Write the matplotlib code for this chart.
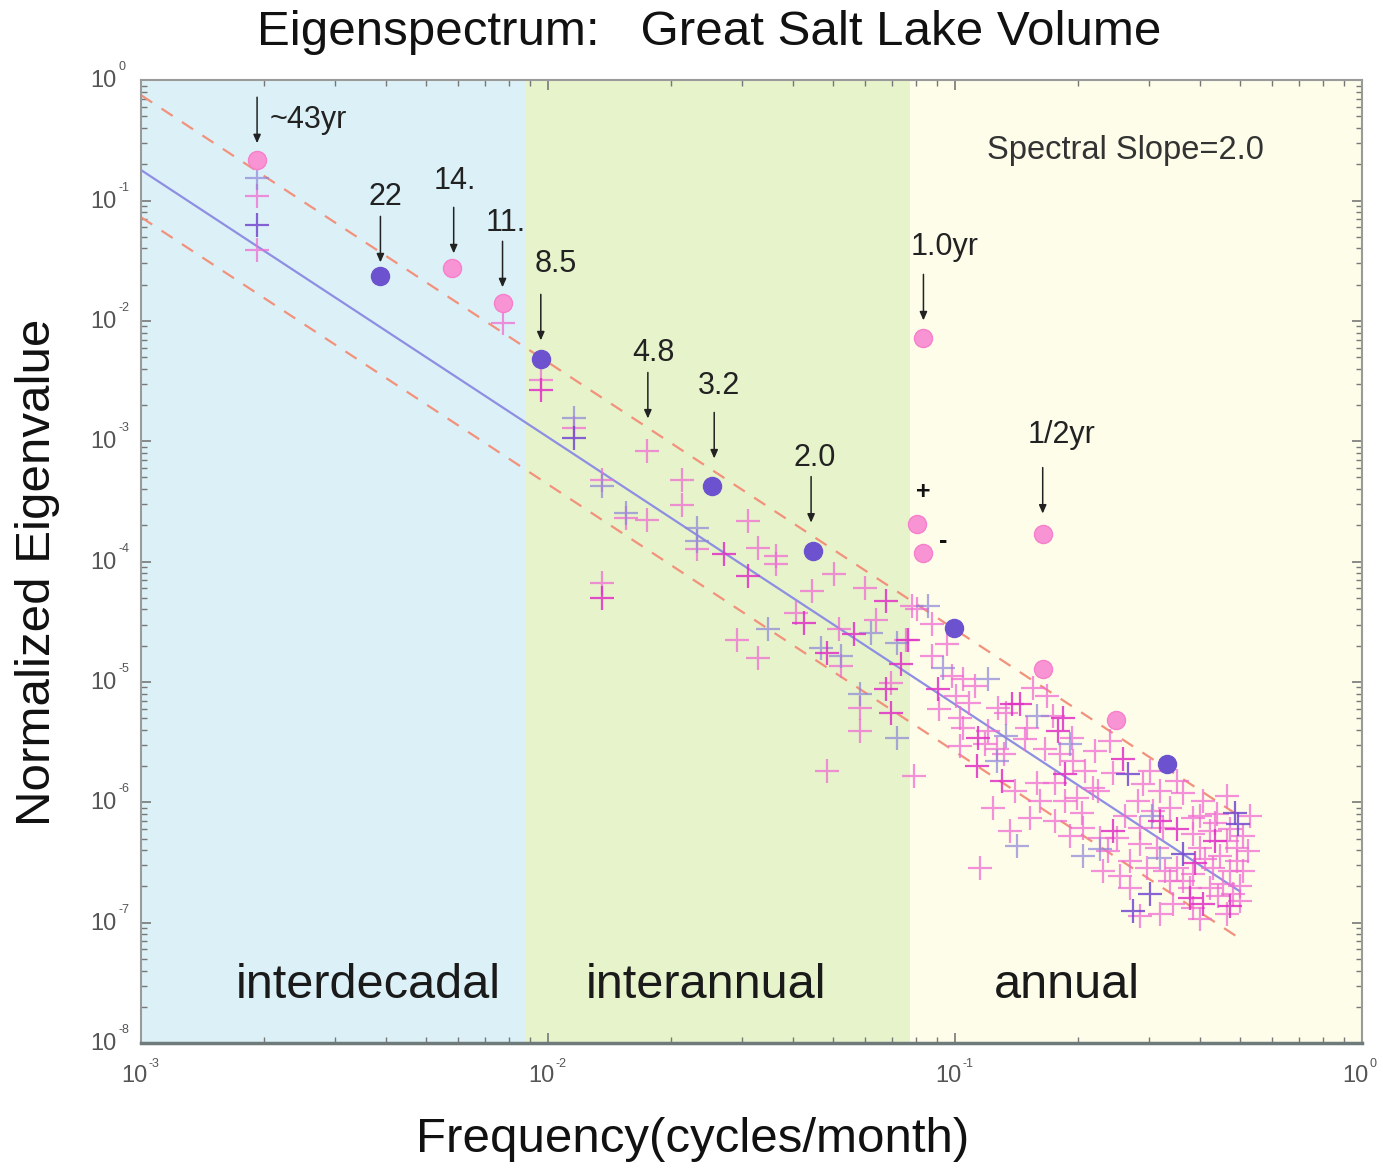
import matplotlib
matplotlib.use("Agg")
import numpy as np
import matplotlib.pyplot as plt

plt.rcParams["font.family"] = ["Liberation Sans", "DejaVu Sans"]

# frequency bands (cycles/month)
band_edges = [1e-3, 0.0088, 0.0773, 1.0]
band_names = ["interdecadal", "interannual", "annual"]
band_colors = ["#dcf1f7", "#e6f3cb", "#fdfdea"]

# power-law fit and its envelope, values at f = 1e-3
fit_slope = 2.22
env_hi_amp = 0.75
fit_amp = 0.179
env_lo_amp = 0.0726
fit_f = [1e-3, 0.5]

# highlighted eigenvalues (log10 f, log10 value)
pink_dot_logf = [-2.715, -2.237, -2.112, -1.080, -1.093, -1.080, -0.785, -0.785, -0.605]
pink_dot_logy = [-0.665, -1.563, -1.854, -2.146, -3.684, -3.925, -3.767, -4.890, -5.314]
blue_dot_logf = [-2.412, -2.018, -1.597, -1.349, -1.004, -0.480]
blue_dot_logy = [-1.630, -2.320, -3.368, -3.909, -4.549, -5.680]

# remaining eigenvalues, '+' markers
pink_logf = [-2.715, -2.715, -2.112, -2.018, -1.937, -1.757, -1.671, -1.671, -1.868, -1.809,
             -1.757, -1.634, -1.509, -1.484, -1.440, -1.440, -1.868, -1.536, -1.484, -1.297,
             -1.351, -1.221, -1.390, -1.194, -1.285, -1.120, -1.280, -1.157, -1.235, -1.235,
             -1.314, -1.100, -1.105, -1.058, -1.058, -1.095, -1.019, -1.009, -0.982, -0.952,
             -0.997, -0.965, -1.039, -0.989, -0.982, -0.920, -0.928, -0.896, -0.874, -0.810,
             -0.775, -0.760, -0.824, -0.829, -0.898, -0.879, -0.780, -0.743, -0.800, -0.756,
             -0.731, -0.908, -0.817, -0.756, -0.866, -0.714, -0.657, -0.620, -0.711, -0.613,
             -0.662, -0.701, -0.539, -0.497, -0.455, -0.441, -0.551, -0.514, -0.473, -0.391,
             -0.332, -0.357, -0.416, -0.689, -0.687, -0.603, -0.645, -0.546, -0.490, -0.416,
             -0.374, -0.332, -0.308, -0.546, -0.505, -0.399, -0.637, -0.571, -0.529, -0.455,
             -0.416, -0.367, -0.325, -0.308, -0.571, -0.473, -0.423, -0.374, -0.342, -0.465,
             -0.497, -0.416, -0.332, -0.318, -0.940, -0.399, -0.362, -0.325, -0.293, -0.386,
             -0.350, -0.293, -0.300, -0.354, -0.300, -0.441, -0.485, -0.596, -0.625, -0.583,
             -0.650, -0.522, -0.276, -0.281, -0.399, -0.546, -0.682, -0.792, -0.989, -0.854,
             -0.719]
pink_logy = [-0.965, -1.414, -2.021, -2.495, -2.894, -3.077, -3.318, -3.526, -3.318, -3.634,
             -3.651, -3.892, -3.659, -3.884, -3.950, -4.017, -4.175, -4.649, -4.798, -4.100,
             -4.241, -4.216, -4.424, -4.482, -4.557, -4.649, -4.865, -5.006, -5.214, -5.405,
             -5.738, -5.780, -4.366, -4.516, -4.782, -4.391, -4.682, -4.948, -4.973, -5.031,
             -5.114, -5.172, -5.222, -5.297, -5.380, -5.405, -5.514, -5.214, -5.256, -5.048,
             -5.114, -5.281, -5.380, -5.472, -5.555, -5.597, -5.555, -5.597, -5.838, -5.838,
             -5.988, -6.046, -6.129, -6.154, -6.237, -5.464, -5.572, -5.489, -5.655, -5.755,
             -5.879, -5.963, -5.846, -5.904, -5.821, -5.921, -5.988, -6.071, -6.046, -5.988,
             -5.946, -6.096, -6.129, -6.087, -6.212, -6.295, -6.295, -6.212, -6.212, -6.262,
             -6.237, -6.320, -6.378, -6.345, -6.378, -6.378, -6.570, -6.486, -6.545, -6.545,
             -6.595, -6.545, -6.570, -6.486, -6.711, -6.653, -6.711, -6.711, -6.678, -6.844,
             -6.927, -6.877, -6.927, -6.761, -6.545, -6.112, -6.170, -6.220, -6.279, -6.470,
             -6.445, -6.570, -6.694, -6.778, -6.819, -6.653, -6.570, -6.611, -6.403, -6.112,
             -5.904, -5.738, -6.112, -6.403, -6.969, -6.944, -5.738, -5.988, -5.530, -5.904,
             -6.279]

lav_logf = [-2.715, -1.937, -1.868, -1.809, -1.634, -1.634, -1.459, -1.206, -1.144, -1.329,
            -1.280, -1.235, -1.144, -1.068, -1.031, -0.920, -0.800, -0.874, -0.898, -0.719,
            -0.516, -0.687, -0.645, -0.497, -0.849]
lav_logy = [-0.815, -2.803, -3.368, -3.593, -3.717, -3.825, -4.557, -4.590, -4.674, -4.715,
            -4.782, -5.098, -5.464, -4.366, -4.881, -4.973, -5.281, -5.447, -5.655, -5.514,
            -6.112, -6.445, -6.387, -6.461, -6.362]

mag_logf = [-2.018, -1.568, -1.509, -1.868, -1.169, -1.371, -1.248, -1.314, -1.132, -1.169,
            -1.157, -1.117, -1.043, -0.945, -0.861, -0.842, -0.736, -0.748, -0.947, -0.886,
            -0.731, -0.588, -0.613, -0.455, -0.423, -0.391, -0.362, -0.411, -0.325, -0.497]
mag_logy = [-2.578, -3.933, -4.116, -4.299, -4.324, -4.507, -4.599, -4.757, -4.848, -5.056,
            -5.256, -4.649, -5.056, -5.464, -5.181, -5.181, -5.297, -5.405, -5.696, -5.821,
            -5.763, -5.638, -6.237, -6.220, -6.794, -6.844, -6.320, -6.503, -6.861, -6.154]

purple_logf = [-2.715, -1.937, -0.576, -0.313, -0.305, -0.441, -0.522, -0.564]
purple_logy = [-1.206, -2.969, -5.763, -6.087, -6.179, -6.428, -6.761, -6.902]

# period labels with arrows
arrow_labels = ["~43yr", "22", "14.", "11.", "8.5", "4.8", "3.2", "2.0", "1.0yr", "1/2yr"]
arrow_logf = [-2.715, -2.412, -2.232, -2.112, -2.018, -1.755, -1.592, -1.354, -1.078, -0.785]
arrow_logy = [-0.524, -1.514, -1.439, -1.721, -2.162, -2.811, -3.143, -3.676, -1.996, -3.601]
# label offsets from the arrow tip, in pixels
label_dx = [13, 5, 1, 3, 15, 6, 5, 4, 21, 19]
label_dy = [23, 65, 72, 64, 76, 65, 72, 65, 73, 79]

fig = plt.figure(figsize=(13.83, 11.70), dpi=100)
ax = fig.add_axes([0.102, 0.1085, 0.883, 0.823])
ax.set_xscale("log")
ax.set_yscale("log")
ax.set_xlim(1e-3, 1.0)
ax.set_ylim(1e-8, 1.0)

for i in range(3):
    ax.axvspan(band_edges[i], band_edges[i + 1], color=band_colors[i], zorder=0, lw=0)
band_label_x = [0.186, 0.463, 0.758]
for name, bx in zip(band_names, band_label_x):
    ax.text(bx, 0.06, name, transform=ax.transAxes, ha="center", va="center",
            fontsize=35, color="#1a1a1a")

# fit line and envelope
f = np.array(fit_f)
ax.plot(f, fit_amp * (f / 1e-3) ** (-fit_slope), color="#8e8ee2", lw=1.6, zorder=2)
ax.plot(f, env_hi_amp * (f / 1e-3) ** (-fit_slope), color="#f2917c", lw=1.6,
        ls=(0, (6, 5)), zorder=2)
ax.plot(f, env_lo_amp * (f / 1e-3) ** (-fit_slope), color="#f2917c", lw=1.6,
        ls=(0, (6, 5)), zorder=2)

# crosses
cross_kw = dict(ls="none", marker="+", ms=17, mew=1.6, zorder=3)
ax.plot(10 ** np.array(pink_logf), 10 ** np.array(pink_logy), color="#f06cd2",
        alpha=0.75, **cross_kw)
ax.plot(10 ** np.array(lav_logf), 10 ** np.array(lav_logy), color="#8d85d9",
        alpha=0.7, **cross_kw)
ax.plot(10 ** np.array(mag_logf), 10 ** np.array(mag_logy), color="#e030c4",
        alpha=0.85, **cross_kw)
ax.plot(10 ** np.array(purple_logf), 10 ** np.array(purple_logy), color="#7448d0",
        alpha=0.85, **cross_kw)

# highlighted dots
ax.plot(10 ** np.array(pink_dot_logf), 10 ** np.array(pink_dot_logy), ls="none",
        marker="o", ms=13, color="#f994d4", mec="#f77fcc", mew=1, zorder=4)
ax.plot(10 ** np.array(blue_dot_logf), 10 ** np.array(blue_dot_logy), ls="none",
        marker="o", ms=13, color="#6c52cf", mec="#6c52cf", mew=1, zorder=4)

# arrows and period labels
for lab, lf, ly, dx, dy in zip(arrow_labels, arrow_logf, arrow_logy, label_dx, label_dy):
    tip = (10 ** lf, 10 ** ly)
    ax.annotate("", xy=tip, xytext=(0, 46), textcoords="offset pixels",
                arrowprops=dict(arrowstyle="-|>,head_length=0.5,head_width=0.22",
                                color="#222222", lw=1.1, shrinkA=0, shrinkB=0),
                zorder=5)
    ax.annotate(lab, xy=tip, xytext=(dx, dy), textcoords="offset pixels",
                ha="left" if lab == "~43yr" else "center", va="center",
                fontsize=22, color="#222222", zorder=5)

ax.annotate("+", xy=(10 ** pink_dot_logf[4], 10 ** pink_dot_logy[4]), xytext=(6, 32),
            textcoords="offset pixels", ha="center", va="center", fontsize=18,
            fontweight="bold", color="#111111")
ax.annotate("-", xy=(10 ** pink_dot_logf[5], 10 ** pink_dot_logy[5]), xytext=(21, 12),
            textcoords="offset pixels", ha="center", va="center", fontsize=18,
            fontweight="bold", color="#111111")

ax.text(0.806, 0.927, "Spectral Slope=2.0", transform=ax.transAxes, ha="center",
        va="center", fontsize=23.5, color="#333333")

# ticks: inside on all sides, labels drawn by hand as 10 + small exponent
ax.tick_params(which="both", direction="in", top=True, right=True,
               labelbottom=False, labelleft=False, color="#777777")
ax.tick_params(which="major", length=7, width=1.2)
ax.tick_params(which="minor", length=4, width=1.0)
ax.xaxis.set_minor_locator(matplotlib.ticker.LogLocator(base=10, subs=np.arange(2, 10)))
ax.yaxis.set_minor_locator(matplotlib.ticker.LogLocator(base=10, subs=np.arange(2, 10),
                                                        numticks=20))
ax.yaxis.set_major_locator(matplotlib.ticker.LogLocator(base=10, numticks=20))

for e in range(-3, 1):
    ax.annotate("10", xy=(10.0 ** e, 0), xycoords=("data", "axes fraction"),
                xytext=(-7, -33), textcoords="offset pixels", ha="center", va="center",
                fontsize=17, color="#555555")
    ax.annotate(str(e), xy=(10.0 ** e, 0), xycoords=("data", "axes fraction"),
                xytext=(7, -21), textcoords="offset pixels", ha="left", va="center",
                fontsize=9, color="#555555")
for e in range(-8, 1):
    ax.annotate("10", xy=(0, 10.0 ** e), xycoords=("axes fraction", "data"),
                xytext=(-25, -1), textcoords="offset pixels", ha="right", va="center",
                fontsize=17, color="#555555")
    ax.annotate(str(e), xy=(0, 10.0 ** e), xycoords=("axes fraction", "data"),
                xytext=(-23, 13), textcoords="offset pixels", ha="left", va="center",
                fontsize=9, color="#555555")

for side in ["left", "right", "top"]:
    ax.spines[side].set_color("#9a9a9a")
    ax.spines[side].set_linewidth(1.5)
ax.spines["bottom"].set_color("#6f7a7a")
ax.spines["bottom"].set_linewidth(2.5)

fig.text(0.513, 0.972, "Eigenspectrum:   Great Salt Lake Volume", ha="center",
         va="center", fontsize=35.5, color="#111111")
fig.text(0.501, 0.026, "Frequency(cycles/month)", ha="center", va="center",
         fontsize=35.5, color="#111111")
fig.text(0.027, 0.511, "Normalized Eigenvalue", ha="center", va="center",
         rotation=90, fontsize=35.5, color="#111111")

fig.savefig("out.png", dpi=100)
